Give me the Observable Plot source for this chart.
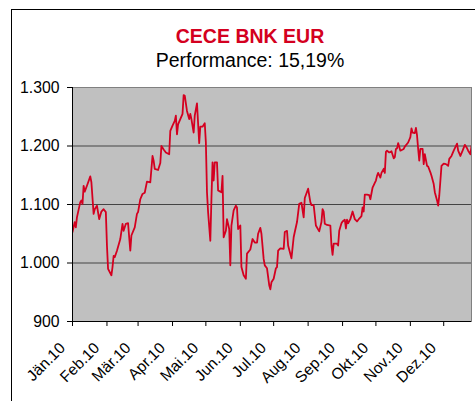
<!DOCTYPE html>
<html><head><meta charset="utf-8">
<script src="https://cdn.jsdelivr.net/npm/d3@7"></script>
<script src="https://cdn.jsdelivr.net/npm/@observablehq/plot@0.6"></script>
<style>
body{margin:0;background:#fff;font-family:"Liberation Sans",Arial,sans-serif;}
#wrap{position:relative;width:475px;height:401px;overflow:hidden;background:#fff;}
#box{position:absolute;left:11px;top:9px;width:600px;height:600px;border:1px solid #000;box-sizing:border-box;}
.t{position:absolute;left:0;width:500px;text-align:center;line-height:1;white-space:pre;}
#title{top:26.5px;font-size:19.5px;font-weight:bold;color:#d40020;}
#sub{top:50.8px;font-size:19.5px;color:#000;}
#chart{position:absolute;left:0;top:75px;}
</style></head>
<body>
<div id="wrap">
  <div id="box"></div>
  <div class="t" id="title">CECE BNK EUR</div>
  <div class="t" id="sub">Performance: 15,19%</div>
  <div id="chart"></div>
</div>
<script>
const dates = [
"2010-01-01","2010-01-03","2010-01-04","2010-01-05","2010-01-08","2010-01-09","2010-01-10","2010-01-11","2010-01-12","2010-01-14",
"2010-01-17","2010-01-18","2010-01-20","2010-01-21","2010-01-23","2010-01-25","2010-01-27","2010-01-29","2010-01-31",
"2010-02-01","2010-02-02","2010-02-05","2010-02-06","2010-02-07","2010-02-08","2010-02-10","2010-02-13","2010-02-15","2010-02-16",
"2010-02-18","2010-02-20","2010-02-21","2010-02-22","2010-02-23","2010-02-26","2010-02-28",
"2010-03-01","2010-03-03","2010-03-05","2010-03-07","2010-03-09","2010-03-12","2010-03-14","2010-03-15","2010-03-16","2010-03-19",
"2010-03-21","2010-03-22","2010-03-24","2010-03-26","2010-03-29","2010-03-30",
"2010-04-01","2010-04-03","2010-04-04","2010-04-05","2010-04-06","2010-04-08","2010-04-10","2010-04-11","2010-04-12","2010-04-14",
"2010-04-16","2010-04-17","2010-04-18","2010-04-20","2010-04-21","2010-04-23","2010-04-25","2010-04-26","2010-04-28","2010-04-30",
"2010-05-01","2010-05-02","2010-05-03","2010-05-05","2010-05-06","2010-05-07","2010-05-08","2010-05-09","2010-05-11","2010-05-12",
"2010-05-14","2010-05-15","2010-05-16","2010-05-17","2010-05-19","2010-05-20","2010-05-22","2010-05-23","2010-05-24","2010-05-26",
"2010-05-28","2010-05-29","2010-05-30",
"2010-06-01","2010-06-02","2010-06-04","2010-06-06","2010-06-07","2010-06-10","2010-06-12","2010-06-14","2010-06-16","2010-06-17",
"2010-06-19","2010-06-20","2010-06-22","2010-06-23","2010-06-25","2010-06-27","2010-06-28","2010-06-29",
"2010-07-01","2010-07-03","2010-07-04","2010-07-05","2010-07-07","2010-07-10","2010-07-11","2010-07-13","2010-07-14","2010-07-17",
"2010-07-19","2010-07-20","2010-07-22","2010-07-24","2010-07-26","2010-07-28","2010-07-29",
"2010-08-01","2010-08-03","2010-08-04","2010-08-06","2010-08-08","2010-08-11","2010-08-13","2010-08-14","2010-08-15","2010-08-16",
"2010-08-18","2010-08-21","2010-08-22","2010-08-23","2010-08-24","2010-08-27","2010-08-28","2010-08-29","2010-08-31",
"2010-09-01","2010-09-03","2010-09-04","2010-09-05","2010-09-06","2010-09-08","2010-09-10","2010-09-12","2010-09-14","2010-09-16",
"2010-09-18","2010-09-19","2010-09-20","2010-09-21","2010-09-23","2010-09-25","2010-09-26","2010-09-28","2010-09-30",
"2010-10-01","2010-10-02","2010-10-03","2010-10-05","2010-10-06","2010-10-08","2010-10-09","2010-10-10","2010-10-11","2010-10-13",
"2010-10-15","2010-10-17","2010-10-18","2010-10-19","2010-10-20","2010-10-21","2010-10-23","2010-10-26","2010-10-27","2010-10-30",
"2010-11-01","2010-11-02","2010-11-03","2010-11-05","2010-11-06","2010-11-07","2010-11-08","2010-11-09","2010-11-10","2010-11-12",
"2010-11-13","2010-11-14","2010-11-16","2010-11-17","2010-11-19","2010-11-20","2010-11-22","2010-11-23","2010-11-25","2010-11-26",
"2010-11-27","2010-11-29",
"2010-12-01","2010-12-03","2010-12-05","2010-12-06","2010-12-08","2010-12-10","2010-12-13","2010-12-14","2010-12-16","2010-12-18",
"2010-12-20","2010-12-22","2010-12-23","2010-12-25","2010-12-26"
];
const values = [
1053,1070,1061,1078,1104,1107,1101,1132,1122,1132,
1148,1138,1084,1092,1098,1075,1088,1092,1087,
1030,990,979,993,1012,1010,1021,1041,1067,1055,
1067,1068,1044,1021,1047,1061,1084,
1087,1109,1118,1120,1139,1138,1183,1175,1161,1159,
1171,1200,1194,1189,1186,1226,
1235,1243,1252,1220,1237,1246,1255,1287,1286,1260,
1246,1255,1246,1223,1252,1273,1205,1233,1233,1239,
1206,1121,1087,1038,1109,1172,1141,1172,1172,1124,
1122,1121,1149,1044,1055,1075,1058,996,1064,1090,
1098,1095,1058,
1064,993,979,973,1016,1023,1041,1035,1035,1050,
1060,1050,1007,996,991,962,955,967,
973,991,993,1021,1025,1024,1053,1055,1030,1008,
1044,1053,1070,1101,1103,1078,1111,
1127,1104,1099,1099,1064,1054,1070,1092,1088,1067,
1065,1064,1030,1014,1033,1033,1030,1055,1068,
1071,1074,1059,1074,1068,1075,1088,1075,1071,1076,
1080,1095,1088,1117,1117,1116,1109,1129,1137,
1141,1149,1154,1146,1154,1161,1154,1190,1192,1189,
1191,1179,1181,1195,1196,1205,1192,1195,1199,1206,
1215,1230,1223,1222,1231,1218,1195,1175,1195,1195,
1169,1186,1166,1165,1155,1149,1135,1121,1107,1098,
1115,1166,
1170,1169,1166,1178,1183,1192,1204,1192,1183,1192,
1202,1196,1192,1186,1200
];
const monthTicks = ["2010-01-01","2010-02-01","2010-03-01","2010-04-01","2010-05-01","2010-06-01","2010-07-01","2010-08-01","2010-09-01","2010-10-01","2010-11-01","2010-12-01"];
const monthLabels = ["Jän.10","Feb.10","Mär.10","Apr.10","Mai.10","Jun.10","Jul.10","Aug.10","Sep.10","Okt.10","Nov.10","Dez.10"];
const yTicks = [900,1000,1100,1200,1300];
const yTickLabels = ["900","1.000","1.100","1.200","1.300"];
const gridValues = [1000,1100,1200];
const xDomain = ["2010-01-01","2010-12-26"];

const data = dates.map((d,i)=>({date:new Date(d), value:values[i]}));
const xt = monthTicks.map(d=>new Date(d));
const xTickData = xt.map((d,i)=>({date:d, label:monthLabels[i]}));
const yLab = new Map(yTicks.map((t,i)=>[t, yTickLabels[i]]));
const x0 = new Date(xDomain[0]);

const chart = Plot.plot({
  width: 475, height: 326,
  marginLeft: 72, marginRight: 4, marginTop: 12, marginBottom: 80,
  style: {fontFamily: "'Liberation Sans', Arial, sans-serif", fontSize: "15px", color: "#000", background: "transparent"},
  x: {type: "utc", domain: xDomain.map(d=>new Date(d))},
  y: {domain: [900, 1300]},
  marks: [
    Plot.frame({fill: "#c0c0c0", stroke: "#808080"}),
    Plot.ruleY(gridValues, {stroke: "#444", strokeWidth: 1}),
    Plot.line(data, {x: "date", y: "value", stroke: "#d40020", strokeWidth: 1.8, clip: true}),
    Plot.ruleX([x0], {stroke: "#000"}),
    Plot.ruleY([900], {stroke: "#000"}),
    Plot.axisY({ticks: yTicks, tickFormat: d=>yLab.get(d), tickSize: 5, tickPadding: 8, fontSize: 15.8, label: null}),
    Plot.axisX({ticks: xt, text: null, tickSize: 5, label: null}),
    Plot.text(xTickData, {x: "date", text: "label", frameAnchor: "bottom", rotate: -45, textAnchor: "end", lineAnchor: "middle", dx: -10, dy: 24, fontSize: 15.5, fill: "#000"})
  ]
});
document.getElementById("chart").appendChild(chart);
</script>
</body></html>
